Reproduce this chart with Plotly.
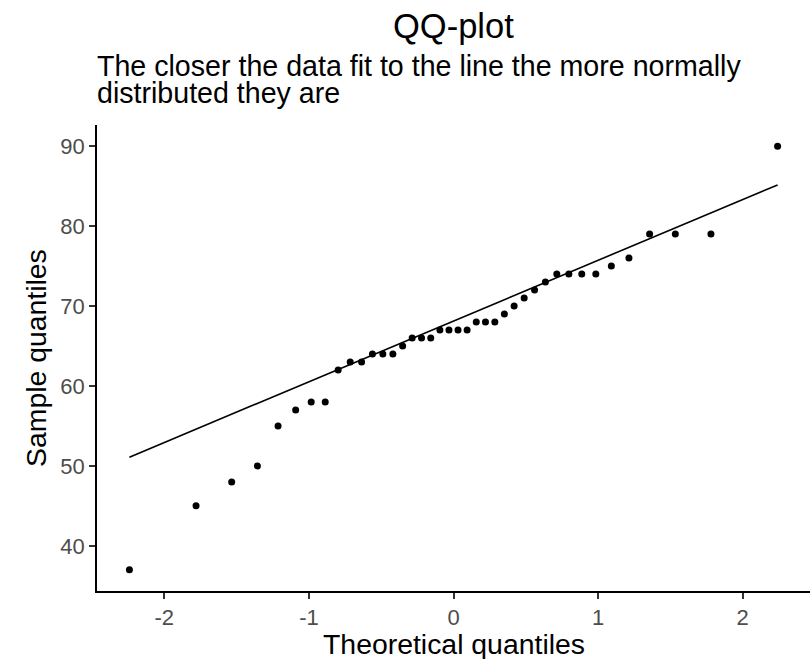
import plotly.graph_objects as go
import numpy as np
from statistics import NormalDist

# Sample values (sorted)
sample_values = [37, 45, 48, 50, 55, 57, 58, 58, 62, 63,
                 63, 64, 64, 64, 65, 66, 66, 66, 67, 67,
                 67, 67, 68, 68, 68, 69, 70, 71, 72, 73,
                 74, 74, 74, 74, 75, 76, 79, 79, 79, 90]
x_tick_vals = [-2, -1, 0, 1, 2]
y_tick_vals = [40, 50, 60, 70, 80, 90]

title_text = "QQ-plot"
subtitle_lines = ["The closer the data fit to the line the more normally",
                  "distributed they are"]
x_title = "Theoretical quantiles"
y_title = "Sample quantiles"

n = len(sample_values)
nd = NormalDist()
theo = [nd.inv_cdf((i - 0.5) / n) for i in range(1, n + 1)]

# qq line through the quartiles
q1, q3 = np.quantile(sample_values, [0.25, 0.75])
z1, z3 = nd.inv_cdf(0.25), nd.inv_cdf(0.75)
slope = (q3 - q1) / (z3 - z1)
intercept = q1 - slope * z1
line_x = [min(theo), max(theo)]
line_y = [intercept + slope * v for v in line_x]

FONT = "Liberation Sans, Arial, sans-serif"

fig = go.Figure()
fig.add_trace(go.Scatter(x=line_x, y=line_y, mode="lines",
                         line=dict(color="black", width=1.6),
                         showlegend=False, hoverinfo="skip"))
fig.add_trace(go.Scatter(x=theo, y=sample_values, mode="markers",
                         marker=dict(color="black", size=7),
                         showlegend=False))

xspan = max(theo) - min(theo)
yspan = max(sample_values) - min(sample_values)
xr = [min(theo) - 0.05 * xspan, max(theo) + 0.05 * xspan]
yr = [min(sample_values) - 0.05 * yspan, max(sample_values) + 0.05 * yspan]

fig.update_layout(
    width=810, height=659,
    margin=dict(l=97, r=0, t=125, b=68),
    paper_bgcolor="white", plot_bgcolor="white",
    font=dict(family=FONT, color="black"),
    annotations=[
        dict(text=title_text, xref="paper", yref="paper", x=0.5, y=1,
             xanchor="center", yanchor="middle", yshift=99, showarrow=False,
             font=dict(size=34.5, color="black", family=FONT)),
        dict(text=subtitle_lines[0], xref="paper", yref="paper", x=0, y=1,
             xanchor="left", yanchor="middle", yshift=59, xshift=-2, showarrow=False,
             font=dict(size=28.6, color="black", family=FONT)),
        dict(text=subtitle_lines[1], xref="paper", yref="paper", x=0, y=1,
             xanchor="left", yanchor="middle", yshift=32, xshift=-2, showarrow=False,
             font=dict(size=28.6, color="black", family=FONT)),
        dict(text=x_title, xref="paper", yref="paper", x=0.5, y=0,
             xanchor="center", yanchor="middle", yshift=-52.5, showarrow=False,
             font=dict(size=28.4, color="black", family=FONT)),
        dict(text=y_title, xref="paper", yref="paper", x=0, y=0.5, textangle=-90,
             xanchor="center", yanchor="middle", xshift=-61, showarrow=False,
             font=dict(size=28.4, color="black", family=FONT)),
    ],
)
fig.update_xaxes(range=xr, tickvals=x_tick_vals, ticktext=[str(v) for v in x_tick_vals],
                 automargin=False, fixedrange=True,
                 showgrid=False, zeroline=False, showline=True, linecolor="black", linewidth=1.5,
                 ticks="outside", ticklen=6, tickwidth=1.5, tickcolor="#333333",
                 tickfont=dict(size=22, color="#4d4d4d", family=FONT))
fig.update_yaxes(range=yr, tickvals=y_tick_vals, ticktext=[str(v) for v in y_tick_vals],
                 automargin=False, fixedrange=True,
                 showgrid=False, zeroline=False, showline=True, linecolor="black", linewidth=1.5,
                 ticks="outside", ticklen=6, tickwidth=1.5, tickcolor="#333333",
                 tickfont=dict(size=22, color="#4d4d4d", family=FONT))

fig.write_html("out.html",
               config={"displayModeBar": False},
               post_script="document.body.style.margin='0';document.body.style.overflow='hidden';")
